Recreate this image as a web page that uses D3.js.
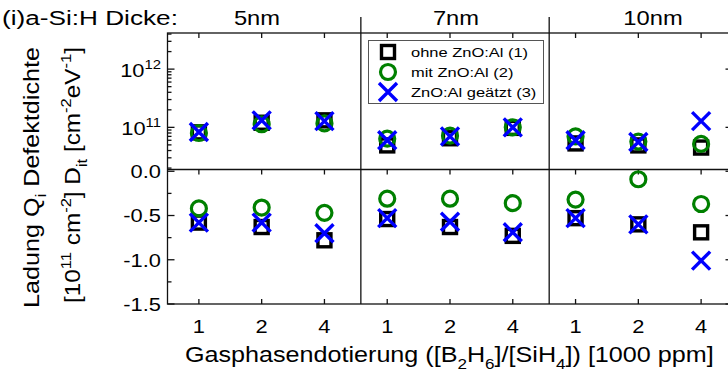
<!DOCTYPE html>
<html><head><meta charset="utf-8">
<script src="https://cdn.jsdelivr.net/npm/d3@7"></script>
<style>
html,body{margin:0;padding:0;background:#fff;}
svg{display:block;font-family:"Liberation Sans",Arial,sans-serif;}
</style></head>
<body><svg id="c" width="728" height="386"></svg>
<script>
// ---------- data ----------
const thicknesses = ["5nm", "7nm", "10nm"];
const dopings = ["1", "2", "4"];
const seriesNames = ["ohne ZnO:Al (1)", "mit ZnO:Al (2)", "ZnO:Al geätzt (3)"];
// Dit [cm^-2 eV^-1], order: 5nm(1,2,4), 7nm(1,2,4), 10nm(1,2,4)
const ditOhne   = [8.2e10, 1.2e11, 1.32e11, 4.9e10, 6.5e10, 9.8e10, 5.3e10, 4.9e10, 4.5e10];
const ditMit    = [8.0e10, 1.13e11, 1.17e11, 6.4e10, 7.2e10, 1.0e11, 7.0e10, 5.7e10, 5.2e10];
const ditGeaetzt= [8.3e10, 1.32e11, 1.28e11, 6.0e10, 7.0e10, 1.0e11, 6.0e10, 5.6e10, 1.28e11];
// Q_i [1e11 cm^-2]
const qOhne     = [-0.58, -0.63, -0.78, -0.54, -0.63, -0.73, -0.53, -0.60, -0.69];
const qMit      = [-0.42, -0.41, -0.47, -0.31, -0.31, -0.36, -0.32, -0.09, -0.37];
const qGeaetzt  = [-0.58, -0.58, -0.70, -0.53, -0.57, -0.69, -0.53, -0.60, -1.01];
const logTickLabels = [["10","11"],["10","12"]];
const linTicks = [0.0, -0.5, -1.0, -1.5];
const linTickLabels = ["0.0", "-0.5", "-1.0", "-1.5"];

// ---------- layout ----------
const svg = d3.select("#c");
const L = 167.5, R = 732.5, T = 33, MID = 169.5, B = 304;
const idx = d3.range(thicknesses.length * dopings.length);
const x = d3.scaleLinear().domain([-0.5, 8.5]).range([L, R]);
const dividers = [2.58, 5.58];
const yTop = d3.scaleLog().domain([1.89e10, 4.17e12]).range([MID, T]);
const yBot = d3.scaleLinear().domain([-1.5, 0.02]).range([B, MID]);
const lineCol = "#111";
const FONT = '"Liberation Sans",Arial,sans-serif';

function rich(sel, parts, fs) {
  // parts: [text, mode] mode: 0 normal, 1 sub, -1 sup
  let prev = 0;
  parts.forEach(([t, m]) => {
    const shift = m === 1 ? 0.33 * fs : m === -1 ? -0.42 * fs : 0;
    sel.append("tspan").attr("dy", shift - prev)
      .attr("font-size", m ? fs * 0.68 : fs).text(t);
    prev = shift;
  });
}
function fit(sel, target, tx, ty, rot) {
  const w = sel.node().getBBox().width;
  sel.attr("transform", `translate(${tx},${ty})${rot ? " rotate(-90)" : ""} scale(${target / w},1)`);
}

// ---------- frame ----------
const g = svg.append("g").attr("stroke", lineCol).attr("stroke-width", 1.3).attr("fill", "none");
g.append("rect").attr("x", L).attr("y", T).attr("width", R - L).attr("height", B - T);
g.append("line").attr("x1", L).attr("x2", R).attr("y1", MID).attr("y2", MID);
dividers.forEach(d => g.append("line").attr("x1", x(d)).attr("x2", x(d)).attr("y1", 17).attr("y2", B));

// x ticks (inward): top border, mid line (down), bottom (up)
idx.forEach(i => {
  const xi = x(i);
  g.append("line").attr("x1", xi).attr("x2", xi).attr("y1", T).attr("y2", T + 5);
  g.append("line").attr("x1", xi).attr("x2", xi).attr("y1", MID).attr("y2", MID + 5);
  g.append("line").attr("x1", xi).attr("x2", xi).attr("y1", B).attr("y2", B - 5);
});
// left log ticks
const [lo, hi] = yTop.domain();
for (let e = 10; e <= 12; e++) {
  for (let m = 1; m <= 9; m++) {
    const v = m * Math.pow(10, e);
    if (v < lo || v > hi) continue;
    const len = m === 1 ? 7 : 4;
    g.append("line").attr("x1", L).attr("x2", L + len).attr("y1", yTop(v)).attr("y2", yTop(v));
    if (m === 1) g.append("line").attr("x1", R).attr("x2", R - 7).attr("y1", yTop(v)).attr("y2", yTop(v));
  }
}
// left linear ticks
d3.range(-1.5, 0.01, 0.25).forEach(v => {
  const major = Math.abs(v * 2 - Math.round(v * 2)) < 1e-6;
  g.append("line").attr("x1", L).attr("x2", L + (major ? 7 : 4)).attr("y1", yBot(v)).attr("y2", yBot(v));
  if (major) g.append("line").attr("x1", R).attr("x2", R - 7).attr("y1", yBot(v)).attr("y2", yBot(v));
});

// ---------- tick labels ----------
const TS = 19, TSX = 1.15;
logTickLabels.forEach(([b, e]) => {
  const v = Math.pow(+b, +e);
  const t = svg.append("text").attr("font-size", TS).attr("fill", "#000").attr("text-anchor", "end");
  rich(t, [[b, 0], [e, -1]], TS);
  fit(t, t.node().getBBox().width * TSX, 161, yTop(v) + 7.5);
});
linTicks.forEach((v, i) => {
  const t = svg.append("text").attr("font-size", TS).attr("text-anchor", "end").text(linTickLabels[i]);
  fit(t, t.node().getBBox().width * TSX, 161, yBot(v) + 6.8);
});
idx.forEach(i => {
  const t = svg.append("text").attr("font-size", TS).attr("text-anchor", "middle").text(dopings[i % 3]);
  fit(t, t.node().getBBox().width * TSX, x(i), 333);
});

// ---------- titles ----------
const tt = svg.append("text").attr("font-size", 21).text("(i)a-Si:H Dicke:");
fit(tt, 176, 2, 25);
const panelCenters = [257, 456, 653];
thicknesses.forEach((s, k) => {
  const t = svg.append("text").attr("font-size", 21).attr("text-anchor", "middle").text(s);
  fit(t, t.node().getBBox().width * 1.13, panelCenters[k], 25);
});
const xt = svg.append("text").attr("font-size", 22);
rich(xt, [["Gasphasendotierung ([B", 0], ["2", 1], ["H", 0], ["6", 1], ["]/[SiH", 0], ["4", 1], ["]) [1000 ppm]", 0]], 22);
fit(xt, 529, 185, 362);

const y1 = svg.append("text").attr("font-size", 21.5).attr("text-anchor", "middle");
rich(y1, [["Ladung Q", 0], ["i", 1], [" Defektdichte", 0]], 21.5);
fit(y1, 261, 38.5, 177.5, true);
const y2 = svg.append("text").attr("font-size", 21.5).attr("text-anchor", "middle");
rich(y2, [["[10", 0], ["11", -1], [" cm", 0], ["-2", -1], ["] D", 0], ["it", 1], [" [cm", 0], ["-2", -1], ["eV", 0], ["-1", -1], ["]", 0]], 21.5);
fit(y2, 256, 80, 175, true);

// ---------- markers ----------
const colors = ["#000000", "#008000", "#0000ff"];
function drawMarker(sel, kind, cx, cy) {
  if (kind === 0) {
    sel.append("rect").attr("x", cx - 6.5).attr("y", cy - 6.5).attr("width", 13).attr("height", 13)
      .attr("fill", "none").attr("stroke", colors[0]).attr("stroke-width", 3.4);
  } else if (kind === 1) {
    sel.append("circle").attr("cx", cx).attr("cy", cy).attr("r", 7.5)
      .attr("fill", "none").attr("stroke", colors[1]).attr("stroke-width", 3.2);
  } else {
    const h = 9;
    sel.append("path").attr("d", `M${cx - h},${cy - h}L${cx + h},${cy + h}M${cx - h},${cy + h}L${cx + h},${cy - h}`)
      .attr("fill", "none").attr("stroke", colors[2]).attr("stroke-width", 3.4);
  }
}
const topSeries = [ditOhne, ditMit, ditGeaetzt];
const botSeries = [qOhne, qMit, qGeaetzt];
const mg = svg.append("g");
[0, 1, 2].forEach(k => {
  topSeries[k].forEach((v, i) => drawMarker(mg, k, x(i), yTop(v)));
  botSeries[k].forEach((v, i) => drawMarker(mg, k, x(i), yBot(v)));
});

// ---------- legend ----------
const lg = svg.append("g");
lg.append("rect").attr("x", 368.5).attr("y", 40.5).attr("width", 175).attr("height", 63)
  .attr("fill", "#fff").attr("stroke", "#555").attr("stroke-width", 1);
seriesNames.forEach((s, k) => {
  const cy = 52 + k * 20;
  drawMarker(lg, k, 388, cy);
  const t = lg.append("text").attr("font-size", 13.5).text(s);
  fit(t, t.node().getBBox().width * 1.22, 411, cy + 5);
});
</script></body></html>
